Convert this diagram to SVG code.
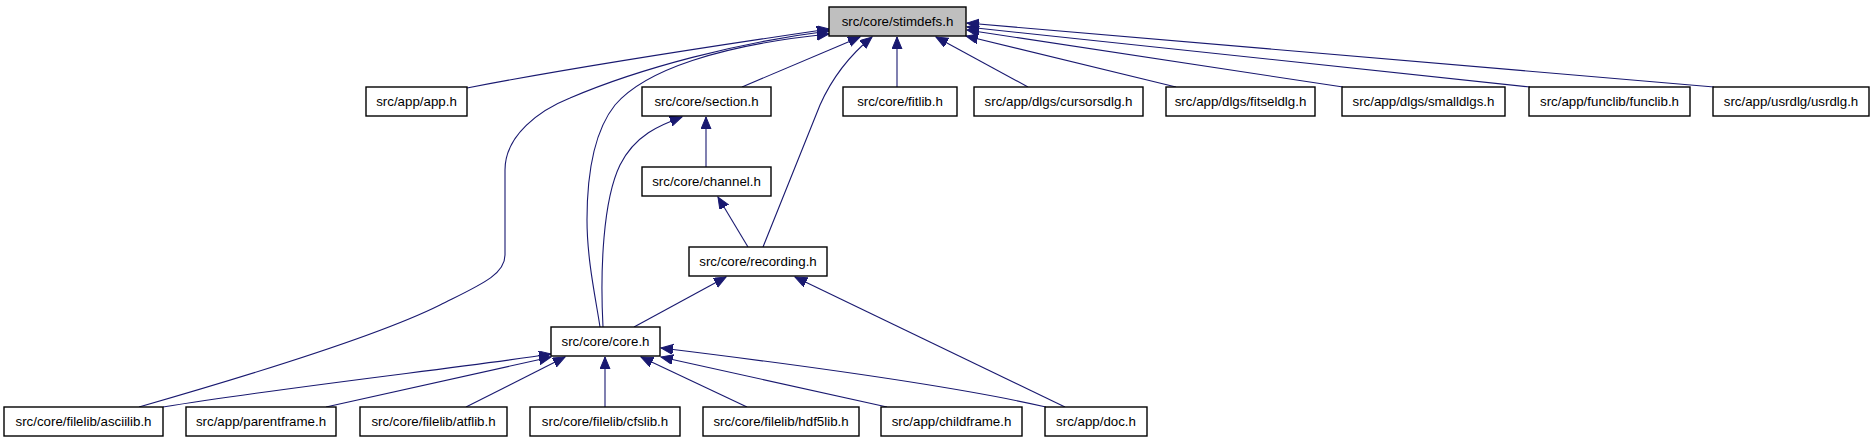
<svg xmlns="http://www.w3.org/2000/svg" width="1873" height="443" viewBox="0 0 1873 443">
<style>
.n rect{fill:#fff;stroke:#000;stroke-width:1.4}
.n.cur rect{fill:#bfbfbf}
.n text{font-family:"Liberation Sans",Arial,sans-serif;font-size:13.3px;text-anchor:middle;fill:#000}
.e path{fill:none;stroke:#191970;stroke-width:1.1;marker-end:url(#ah)}
</style>
<defs>
<marker id="ah" markerUnits="userSpaceOnUse" markerWidth="14" markerHeight="11" refX="12" refY="5" orient="auto">
<path d="M0,0 L12,5 L0,10 z" fill="#191970" stroke="#191970" stroke-width="1"/>
</marker>
</defs>
<rect width="1873" height="443" fill="#fff"/>
<g id="edges" class="e">
<path d="M467,88 C580,66 720,45 829,29"/>
<path d="M139,407 C240,378 380,335 440,305 C480,285 505,275 505,255 L505,170 C505,135 540,110 570,98 C640,68 740,42 829,31"/>
<path d="M600,327 C596,300 587,260 587,220 C587,170 595,130 615,105 C645,70 720,45 829,34"/>
<path d="M742,87 L860,37"/>
<path d="M763,247 C790,180 810,130 820,105 C832,78 850,55 872,37"/>
<path d="M897,87 L897,37"/>
<path d="M1028,87 L936,37"/>
<path d="M1176,87 L966,36"/>
<path d="M1343,87 L967,30"/>
<path d="M1530,87 L967,27"/>
<path d="M1714,87 L967,23"/>
<path d="M603,327 C600,270 603,200 620,165 C635,135 660,125 682,117"/>
<path d="M706,167 L706,117"/>
<path d="M748,247 L718,197"/>
<path d="M634,327 L726,277"/>
<path d="M1065,407 L795,277"/>
<path d="M163,407 C300,385 460,368 551,354"/>
<path d="M326,407 L551,357"/>
<path d="M466,407 L565,357"/>
<path d="M605,407 L605,357"/>
<path d="M747,407 L641,357"/>
<path d="M887,407 L661,357"/>
<path d="M1046,407 C950,385 800,365 661,348"/>
</g>
<g id="stimdefs" class="n cur"><rect x="829" y="7" width="137" height="29"/><text x="897.5" y="26">src/core/stimdefs.h</text></g>
<g id="app" class="n"><rect x="366" y="87" width="101" height="29"/><text x="416.5" y="106">src/app/app.h</text></g>
<g id="section" class="n"><rect x="642" y="87" width="129" height="29"/><text x="706.5" y="106">src/core/section.h</text></g>
<g id="fitlib" class="n"><rect x="843" y="87" width="114" height="29"/><text x="900" y="106">src/core/fitlib.h</text></g>
<g id="cursorsdlg" class="n"><rect x="974" y="87" width="169" height="29"/><text x="1058.5" y="106">src/app/dlgs/cursorsdlg.h</text></g>
<g id="fitseldlg" class="n"><rect x="1166" y="87" width="149" height="29"/><text x="1240.5" y="106">src/app/dlgs/fitseldlg.h</text></g>
<g id="smalldlgs" class="n"><rect x="1342" y="87" width="163" height="29"/><text x="1423.5" y="106">src/app/dlgs/smalldlgs.h</text></g>
<g id="funclib" class="n"><rect x="1529" y="87" width="161" height="29"/><text x="1609.5" y="106">src/app/funclib/funclib.h</text></g>
<g id="usrdlg" class="n"><rect x="1713" y="87" width="156" height="29"/><text x="1791" y="106">src/app/usrdlg/usrdlg.h</text></g>
<g id="channel" class="n"><rect x="642" y="167" width="129" height="29"/><text x="706.5" y="186">src/core/channel.h</text></g>
<g id="recording" class="n"><rect x="689" y="247" width="138" height="29"/><text x="758" y="266">src/core/recording.h</text></g>
<g id="core" class="n"><rect x="551" y="327" width="109" height="29"/><text x="605.5" y="346">src/core/core.h</text></g>
<g id="asciilib" class="n"><rect x="4" y="407" width="159" height="29"/><text x="83.5" y="426">src/core/filelib/asciilib.h</text></g>
<g id="parentframe" class="n"><rect x="186" y="407" width="150" height="29"/><text x="261" y="426">src/app/parentframe.h</text></g>
<g id="atflib" class="n"><rect x="360" y="407" width="147" height="29"/><text x="433.5" y="426">src/core/filelib/atflib.h</text></g>
<g id="cfslib" class="n"><rect x="530" y="407" width="150" height="29"/><text x="605" y="426">src/core/filelib/cfslib.h</text></g>
<g id="hdf5lib" class="n"><rect x="703" y="407" width="156" height="29"/><text x="781" y="426">src/core/filelib/hdf5lib.h</text></g>
<g id="childframe" class="n"><rect x="881" y="407" width="141" height="29"/><text x="951.5" y="426">src/app/childframe.h</text></g>
<g id="doc" class="n"><rect x="1045" y="407" width="102" height="29"/><text x="1096" y="426">src/app/doc.h</text></g>
</svg>
